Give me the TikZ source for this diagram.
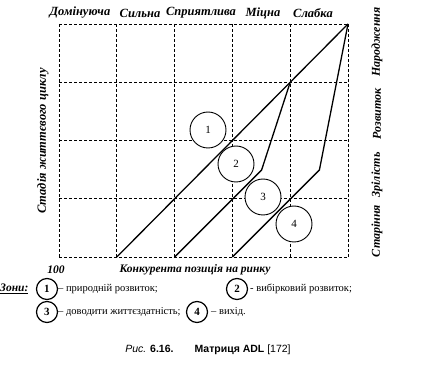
\documentclass[tikz,border=0pt]{standalone}
\usepackage{fontspec}
\setmainfont{Liberation Serif}
\newfontfamily\capfont{Liberation Sans}
\begin{document}
\begin{tikzpicture}[x=1pt,y=-1pt,
  gridline/.style={dash pattern=on 3.2pt off 1.8pt, line width=0.8pt},
  curve/.style={line width=1.3pt, line join=miter},
  zone/.style={circle, draw, line width=0.9pt, minimum size=36pt, inner sep=0pt, fill=white, font=\fontsize{11}{13}\selectfont},
  lzone/.style={circle, draw, line width=1.2pt, minimum size=21pt, inner sep=0pt, font=\bfseries\fontsize{11}{13}\selectfont},
  axlab/.style={font=\bfseries\itshape\fontsize{12}{14}\selectfont, inner sep=0pt},
  toplab/.style={font=\bfseries\itshape\fontsize{12.5}{14}\selectfont, inner sep=0pt},
  leg/.style={font=\fontsize{10.5}{12}\selectfont, anchor=west, inner sep=0pt}]
\useasboundingbox (0,0) rectangle (440,374);
% grid
\foreach \x in {59,116.8,174.6,232.4,290.2,348} \draw[gridline] (\x,24) -- (\x,257);
\foreach \y in {24,82.25,140.5,198.75,257} \draw[gridline] (59,\y) -- (348,\y);
% curves
\coordinate (TR) at (348,24);
\coordinate (A) at (290.2,82.25);
\coordinate (B1) at (116.8,257);
\coordinate (K2) at (261.6,170);
\coordinate (B2) at (174.6,257);
\coordinate (K3) at (319.4,170);
\coordinate (B3) at (232.4,257);
\draw[curve] (TR) -- (B1);
\draw[curve] (A) -- (K2) -- (B2);
\draw[curve] (TR) -- (K3) -- (B3);
% zones
\node[zone] (z1) at (208,130) {1};
\node[zone] (z2) at (236,164) {2};
\node[zone] (z3) at (263,197) {3};
\node[zone] (z4) at (294,224) {4};
% top labels
\node[toplab] (t1) at (80,13) {Домінуюча};
\node[toplab] (t2) at (140,13) {Сильна};
\node[toplab] (t3) at (201,13) {Сприятлива};
\node[toplab] (t4) at (263,13) {Міцна};
\node[toplab] (t5) at (313,13) {Слабка};
% right labels
\node[axlab, rotate=90] (r1) at (377,42) {Народження};
\node[axlab, rotate=90] (r2) at (377,114) {Розвиток};
\node[axlab, rotate=90] (r3) at (377,175) {Зрілість};
\node[axlab, rotate=90] (r4) at (377,231) {Старіння};
% left label
\node[axlab, font=\bfseries\itshape\fontsize{12.5}{14}\selectfont, rotate=90] (ll) at (43,141) {Стадія життєвого циклу};
% bottom
\node[axlab, font=\bfseries\itshape\fontsize{11.5}{13}\selectfont] (h) at (56,270) {100};
\node[axlab, font=\bfseries\itshape\fontsize{11.5}{13}\selectfont] (kp) at (195,270) {Конкурента позиція на ринку};
% legend
\node[font=\bfseries\itshape\fontsize{11.5}{13}\selectfont, anchor=west, inner sep=0pt] (zn) at (0,289) {\underline{Зони:}};
\node[lzone] (l1) at (47,289) {1};
\node[leg] (d1) at (58,289) {– природній розвиток;};
\node[lzone] (l2) at (237,289) {2};
\node[leg] (d2) at (250,289) {- вибірковий розвиток;};
\node[lzone] (l3) at (47,312) {3};
\node[leg] (d3) at (58,312) {– доводити життєздатність;};
\node[lzone] (l4) at (197,312) {4};
\node[leg] (d4) at (211,312) {– вихід.};
% caption
\node[font=\capfont\fontsize{10.5}{12}\selectfont, inner sep=0pt] (cap) at (208,350) {\textit{Рис.} \textbf{6.16.}\hspace{2em}\textbf{Матриця ADL} [172]};
\end{tikzpicture}
\end{document}
